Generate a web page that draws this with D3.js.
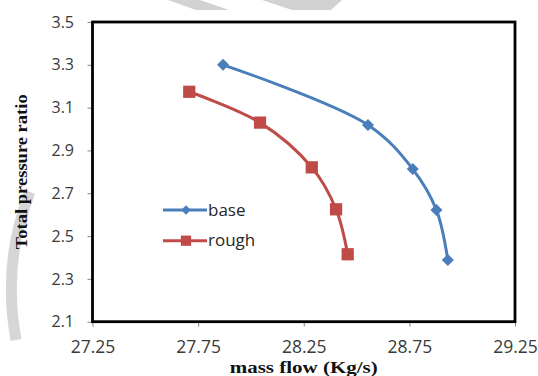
<!DOCTYPE html>
<html>
<head>
<meta charset="utf-8">
<script src="https://cdn.jsdelivr.net/npm/d3@7/dist/d3.min.js"></script>
<style>
  html, body { margin: 0; padding: 0; background: #fff; }
  svg { display: block; }
</style>
</head>
<body>
<svg id="chart" width="538" height="376"></svg>
<script>
// Total pressure ratio vs. mass flow, smooth and rough blade surfaces
const baseFlow     = [27.868, 28.554, 28.766, 28.878, 28.932];
const basePressure = [3.300, 3.019, 2.813, 2.622, 2.388];
const roughFlow     = [27.708, 28.043, 28.288, 28.403, 28.458];
const roughPressure = [3.174, 3.030, 2.821, 2.625, 2.415];

const seriesNames = ["base", "rough"];
const xTicks = [27.25, 27.75, 28.25, 28.75, 29.25];
const yTicks = [2.1, 2.3, 2.5, 2.7, 2.9, 3.1, 3.3, 3.5];

const svg = d3.select("#chart");
const plot = { left: 92.5, right: 515, top: 22, bottom: 321.7 };

const x = d3.scaleLinear().domain([27.25, 29.25]).range([plot.left, plot.right]);
const y = d3.scaleLinear().domain([2.1, 3.5]).range([plot.bottom, plot.top]);

// faint background shapes
const deco = svg.append("g").attr("fill", "#d2d2d2").attr("stroke", "none");
deco.append("path").attr("d", "M168,0 L200,0 L229,10 L196,10 Z");
deco.append("path").attr("d", "M262,0 L342,0 L331,10 L292,10 Z");
svg.append("path")
  .attr("d", "M30,192 Q2,262 16,340")
  .attr("fill", "none").attr("stroke", "#d6d6d6").attr("stroke-width", 11);

// axes
const xAxis = d3.axisBottom(x).tickValues(xTicks).tickFormat(d3.format(".2f"))
  .tickSize(5).tickPadding(14);
const yAxis = d3.axisLeft(y).tickValues(yTicks).tickFormat(d3.format(".1f"))
  .tickSize(5).tickPadding(13.5);

const gx = svg.append("g").attr("transform", `translate(0,${plot.bottom})`).call(xAxis);
const gy = svg.append("g").attr("transform", `translate(${plot.left},0)`).call(yAxis);
[gx, gy].forEach(g => {
  g.select(".domain").remove();
  g.selectAll(".tick line").attr("stroke", "#8a8a8a").attr("stroke-width", 1);
  g.selectAll(".tick text").attr("fill", "#3a3a3a").attr("font-family", "'Open Sans', sans-serif");
});
gx.selectAll(".tick text").attr("font-size", 17.5);
gy.selectAll(".tick text").attr("font-size", 16);

// plot frame
svg.append("rect")
  .attr("x", plot.left).attr("y", plot.top)
  .attr("width", plot.right - plot.left).attr("height", plot.bottom - plot.top)
  .attr("fill", "none").attr("stroke", "#000").attr("stroke-width", 2.8);

// axis titles
svg.append("text")
  .attr("x", (plot.left + plot.right) / 2).attr("y", 373)
  .attr("text-anchor", "middle")
  .attr("font-family", "'Liberation Serif', 'Times New Roman', serif")
  .attr("font-weight", "bold").attr("font-size", 16)
  .attr("textLength", 148).attr("lengthAdjust", "spacingAndGlyphs")
  .attr("fill", "#111")
  .text("mass flow (Kg/s)");

svg.append("text")
  .attr("transform", `translate(27,${(plot.top + plot.bottom) / 2}) rotate(-90)`)
  .attr("text-anchor", "middle")
  .attr("font-family", "'Liberation Serif', 'Times New Roman', serif")
  .attr("font-weight", "bold").attr("font-size", 17)
  .attr("textLength", 155).attr("lengthAdjust", "spacingAndGlyphs")
  .attr("fill", "#111")
  .text("Total pressure ratio");

// series: diamonds are squares turned 45 degrees
const series = [
  { name: seriesNames[0], color: "#4a7ebb", rot: 45, size: 72, legendSize: 45,
    pts: baseFlow.map((v, i) => [v, basePressure[i]]) },
  { name: seriesNames[1], color: "#be4b48", rot: 0, size: 150, legendSize: 105,
    pts: roughFlow.map((v, i) => [v, roughPressure[i]]) }
];

const line = d3.line()
  .x(d => x(d[0])).y(d => y(d[1]))
  .curve(d3.curveCatmullRom.alpha(0.5));

series.forEach(s => {
  svg.append("path")
    .attr("d", line(s.pts))
    .attr("fill", "none").attr("stroke", s.color)
    .attr("stroke-width", 3).attr("stroke-linejoin", "round");
  svg.append("g").selectAll("path")
    .data(s.pts).join("path")
    .attr("d", d3.symbol(d3.symbolSquare, s.size))
    .attr("transform", d => `translate(${x(d[0])},${y(d[1])}) rotate(${s.rot})`)
    .attr("fill", s.color);
});

// legend
const legend = svg.append("g");
series.forEach((s, i) => {
  const ly = 210 + i * 30.7;
  legend.append("line")
    .attr("x1", 163).attr("x2", 207).attr("y1", ly).attr("y2", ly)
    .attr("stroke", s.color).attr("stroke-width", 3);
  legend.append("path")
    .attr("d", d3.symbol(d3.symbolSquare, s.legendSize))
    .attr("transform", `translate(186,${ly}) rotate(${s.rot})`)
    .attr("fill", s.color);
  legend.append("text")
    .attr("x", 208).attr("y", ly + 5.5)
    .attr("font-family", "'Open Sans', sans-serif").attr("font-size", 17)
    .attr("fill", "#262626")
    .text(s.name);
});
</script>
</body>
</html>
